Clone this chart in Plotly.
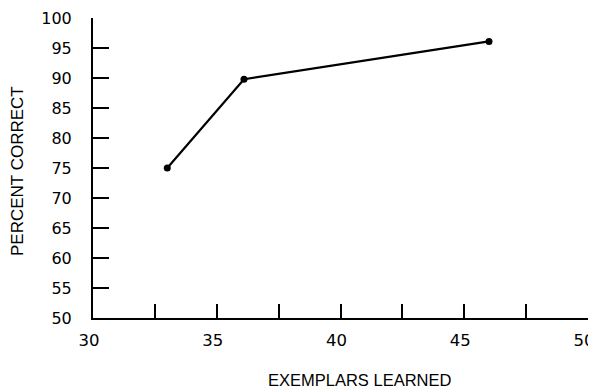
import plotly.graph_objects as go

exemplars = [33.0, 36.1, 46.0]
percent_correct = [75.0, 89.8, 96.1]

x_tick_vals = [30, 35, 40, 45, 50]
y_tick_vals = [50, 55, 60, 65, 70, 75, 80, 85, 90, 95, 100]

x_title = "EXEMPLARS LEARNED"
y_title = "PERCENT CORRECT"

tick_font = "DejaVu Sans, Verdana, sans-serif"
title_font = "Liberation Sans, Arial, Helvetica, sans-serif"

fig = go.Figure()
fig.add_trace(go.Scatter(
    x=exemplars, y=percent_correct, mode="lines+markers",
    line=dict(color="black", width=2.2),
    marker=dict(color="black", size=7),
    showlegend=False,
))

fig.update_layout(
    width=588, height=381,
    margin=dict(l=85, r=8, t=10, b=71, autoexpand=False),
    paper_bgcolor="white", plot_bgcolor="white",
    font=dict(family=title_font, color="black"),
    xaxis=dict(
        range=[30, 50], tickvals=x_tick_vals, automargin=False,
        ticks="inside", ticklen=14, tickwidth=1.5, tickcolor="black",
        minor=dict(dtick=2.5, tick0=30, ticks="inside", ticklen=14, tickwidth=1.5, tickcolor="black"),
        showline=True, linecolor="black", linewidth=2,
        showgrid=False, zeroline=False, ticklabeloverflow="allow",
        tickfont=dict(size=16.5, family=tick_font), ticklabelstandoff=6,
        ticklabelshift=-4,
    ),
    yaxis=dict(
        range=[50, 100], tickvals=y_tick_vals, automargin=False,
        ticks="inside", ticklen=16, tickwidth=2, tickcolor="black",
        showline=True, linecolor="black", linewidth=2,
        showgrid=False, zeroline=False, ticklabeloverflow="allow",
        tickfont=dict(size=16, family=tick_font), ticklabelstandoff=16,
    ),
    annotations=[
        dict(
            text=x_title, xref="paper", yref="paper", x=0.539, y=0,
            yshift=-62, xanchor="center", yanchor="middle", showarrow=False,
            font=dict(size=16.5, family=title_font),
        ),
        dict(
            text=y_title, xref="paper", yref="paper", x=0, y=0.49,
            xshift=-76, xanchor="center", yanchor="middle", showarrow=False,
            textangle=-90, font=dict(size=17, family=title_font),
        ),
    ],
)

fig.write_html("out.html")
